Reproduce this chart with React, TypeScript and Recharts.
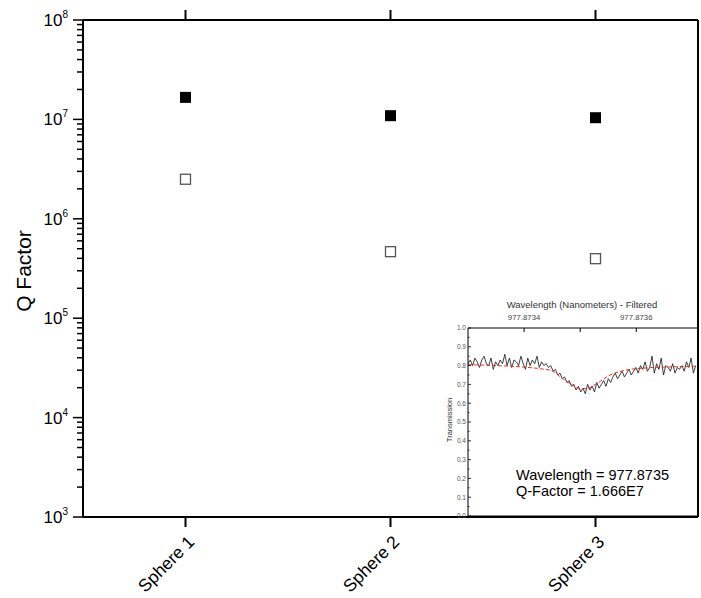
import React from 'react';
import { ComposedChart, Scatter, XAxis, YAxis, Line } from 'recharts';

// ---------- main chart data ----------
const categories = ['Sphere 1', 'Sphere 2', 'Sphere 3'];
const qFilled = [1.666e7, 1.09e7, 1.04e7];
const qOpen = [2.5e6, 4.67e5, 3.97e5];
const decadeTicks = [1e3, 1e4, 1e5, 1e6, 1e7, 1e8];
const minorMultipliers = [2, 3, 4, 5, 6, 7, 8, 9];

// ---------- inset data ----------
const insetXMin = 977.8733;
const insetXMax = 977.87371;
const insetWlTicks = [977.8734, 977.8735, 977.8736];
const insetWlLabels = ['977.8734', '', '977.8736'];
const insetTTicks = [0, 0.1, 0.2, 0.3, 0.4, 0.5, 0.6, 0.7, 0.8, 0.9, 1.0];
const insetTMinor = [0.05, 0.15, 0.25, 0.35, 0.45, 0.55, 0.65, 0.75, 0.85, 0.95];
const noiseStart = 977.8733;
const noiseStep = 0.0000041;
const noiseValues = [
  0.81, 0.83, 0.80, 0.84, 0.82, 0.79, 0.83, 0.85, 0.81, 0.80, 0.84, 0.78, 0.82, 0.80, 0.83, 0.81, 0.86,
  0.80, 0.84, 0.79, 0.83, 0.82, 0.80, 0.85, 0.81, 0.78, 0.84, 0.80, 0.83, 0.81, 0.85, 0.79, 0.82, 0.80,
  0.81, 0.79, 0.80, 0.77, 0.78, 0.75, 0.76, 0.73, 0.74, 0.71, 0.72,
  0.69, 0.70, 0.67, 0.69, 0.66, 0.68, 0.65, 0.70, 0.67, 0.69, 0.66, 0.71, 0.68, 0.70, 0.72, 0.69,
  0.73, 0.71, 0.74, 0.76, 0.73, 0.75, 0.77, 0.74, 0.76, 0.78, 0.75, 0.77,
  0.79, 0.76, 0.80, 0.78, 0.82, 0.77, 0.79, 0.85, 0.76, 0.81, 0.78, 0.84, 0.75, 0.80, 0.79, 0.77, 0.81,
  0.76, 0.79, 0.78, 0.80, 0.77, 0.82, 0.79, 0.84, 0.76, 0.80,
];
const fitWavelengths = [
  977.8733, 977.87335, 977.8734, 977.87343, 977.87345, 977.87347, 977.87349, 977.8735,
  977.87351, 977.87353, 977.87355, 977.87358, 977.87362, 977.87366, 977.87371,
];
const fitValues = [0.805, 0.8, 0.792, 0.783, 0.772, 0.727, 0.69, 0.677, 0.678, 0.705, 0.745, 0.775, 0.788, 0.793, 0.797];

const FONT = '"Liberation Sans", Arial, sans-serif';

const mainData = categories.map((name, i) => ({ name, filled: qFilled[i], open: qOpen[i] }));
const yTicks = [
  ...decadeTicks,
  ...decadeTicks.slice(0, -1).flatMap((d) => minorMultipliers.map((m) => m * d)),
];
const noiseData = noiseValues.map((t, i) => ({ wl: noiseStart + i * noiseStep, t }));
const fitData = fitWavelengths.map((wl, i) => ({ wl, t: fitValues[i] }));

const MainYTick = (props: any) => {
  const { x, y, payload } = props;
  const e = Math.log10(payload.value);
  const major = Math.abs(e - Math.round(e)) < 1e-6;
  return (
    <g>
      <line x1={x - (major ? 10 : 6)} x2={x} y1={y} y2={y} stroke="#000" strokeWidth={1.5} />
      {major && (
        <text x={x - 15} y={y + 6} textAnchor="end" fontSize={17} fontFamily={FONT} fill="#000">
          10
          <tspan dy={-8} fontSize={10}>
            {Math.round(e)}
          </tspan>
        </text>
      )}
    </g>
  );
};

const MainXTick = (props: any) => {
  const { x, y, payload } = props;
  const ax = x + 10;
  const ay = y + 26;
  return (
    <g>
      <line x1={x} x2={x} y1={y} y2={y + 10} stroke="#000" strokeWidth={2} />
      <text x={ax} y={ay} transform={`rotate(-45 ${ax} ${ay})`} textAnchor="end" fontSize={17.5} fontFamily={FONT} fill="#000">
        {payload.value}
      </text>
    </g>
  );
};

const TopXTick = (props: any) => {
  const { x, y } = props;
  return <line x1={x} x2={x} y1={y} y2={y - 10} stroke="#000" strokeWidth={2} />;
};

const FilledSquare = (props: any) => {
  const { cx, cy } = props;
  if (cx == null || cy == null) return null;
  return <rect x={cx - 5.5} y={cy - 5.5} width={11} height={11} fill="#000" />;
};

const OpenSquare = (props: any) => {
  const { cx, cy } = props;
  if (cx == null || cy == null) return null;
  return <rect x={cx - 5} y={cy - 5} width={10} height={10} fill="#fff" stroke="#555" strokeWidth={1.3} />;
};

const InsetTopTick = (props: any) => {
  const { x, y, index } = props;
  return (
    <g>
      <line x1={x} x2={x} y1={y} y2={y + 4} stroke="#000" strokeWidth={1} />
      <text x={x} y={y - 8} textAnchor="middle" fontSize={7.8} fontFamily={FONT} fill="#444">
        {insetWlLabels[index]}
      </text>
    </g>
  );
};

const InsetYTick = (props: any) => {
  const { x, y, payload } = props;
  const v = payload.value;
  const isMajor = insetTTicks.some((t) => Math.abs(t - v) < 1e-9);
  return (
    <g>
      <line x1={x} x2={x + (isMajor ? 3 : 1.5)} y1={y} y2={y} stroke="#000" strokeWidth={0.8} />
      {isMajor && (
        <text x={x - 2} y={y + 2.3} textAnchor="end" fontSize={6.5} fontFamily={FONT} fill="#555">
          {v.toFixed(1)}
        </text>
      )}
    </g>
  );
};

export default function App() {
  return (
    <div style={{ position: 'absolute', left: 8, top: 8, width: 693, height: 590, fontFamily: FONT, overflow: 'hidden' }}>
      <ComposedChart
        width={693}
        height={590}
        data={mainData}
        margin={{ top: 2, right: 2, bottom: 6, left: 0 }}
        style={{ fontFamily: FONT }}
      >
        <XAxis
          dataKey="name"
          type="category"
          scale="band"
          height={75}
          axisLine={{ stroke: '#000', strokeWidth: 2 }}
          tickLine={false}
          tickSize={0}
          tickMargin={0}
          tick={<MainXTick />}
          interval={0}
        />
        <XAxis
          xAxisId="top"
          orientation="top"
          dataKey="name"
          type="category"
          scale="band"
          height={10}
          axisLine={{ stroke: '#000', strokeWidth: 2 }}
          tickLine={false}
          tickSize={0}
          tickMargin={0}
          tick={<TopXTick />}
          interval={0}
        />
        <YAxis
          type="number"
          scale="log"
          domain={[1e3, 1e8]}
          allowDataOverflow
          ticks={yTicks}
          interval={0}
          width={75}
          axisLine={{ stroke: '#000', strokeWidth: 2 }}
          tickLine={false}
          tickSize={0}
          tickMargin={0}
          tick={<MainYTick />}
        />
        <YAxis
          yAxisId="r"
          orientation="right"
          type="number"
          domain={[0, 1]}
          width={1}
          axisLine={{ stroke: '#000', strokeWidth: 2 }}
          tick={false}
          tickLine={false}
        />
        <Scatter dataKey="filled" shape={<FilledSquare />} isAnimationActive={false} />
        <Scatter dataKey="open" shape={<OpenSquare />} isAnimationActive={false} />
      </ComposedChart>

      <div style={{ position: 'absolute', left: 432, top: 282 }}>
        <ComposedChart width={262} height={240} margin={{ top: 0, right: 3, bottom: 13, left: 0 }}>
          <XAxis
            dataKey="wl"
            type="number"
            orientation="top"
            domain={[insetXMin, insetXMax]}
            allowDataOverflow
            ticks={insetWlTicks}
            interval={0}
            height={38}
            axisLine={{ stroke: '#000', strokeWidth: 1 }}
            tickLine={false}
            tickSize={0}
            tickMargin={0}
            tick={<InsetTopTick />}
          />
          <XAxis
            xAxisId="bottom"
            dataKey="wl"
            type="number"
            orientation="bottom"
            domain={[insetXMin, insetXMax]}
            allowDataOverflow
            height={1}
            axisLine={{ stroke: '#000', strokeWidth: 1 }}
            tick={false}
            tickLine={false}
          />
          <YAxis
            type="number"
            domain={[0, 1]}
            allowDataOverflow
            ticks={[...insetTTicks, ...insetTMinor]}
            interval={0}
            width={28}
            axisLine={{ stroke: '#000', strokeWidth: 1 }}
            tickLine={false}
            tickSize={0}
            tickMargin={0}
            tick={<InsetYTick />}
          />
          <YAxis
            yAxisId="ir"
            orientation="right"
            type="number"
            domain={[0, 1]}
            width={1}
            axisLine={{ stroke: '#000', strokeWidth: 1 }}
            tick={false}
            tickLine={false}
          />
          <Line
            data={noiseData}
            dataKey="t"
            stroke="#111"
            strokeWidth={0.8}
            dot={false}
            isAnimationActive={false}
          />
          <Line
            data={fitData}
            dataKey="t"
            stroke="#e8302c"
            strokeWidth={1}
            strokeDasharray="4 2"
            dot={false}
            type="monotone"
            isAnimationActive={false}
          />
        </ComposedChart>
      </div>

      <svg
        width={693}
        height={590}
        style={{ position: 'absolute', left: 0, top: 0, pointerEvents: 'none' }}
        fontFamily={FONT}
      >
        <text x={23} y={263} transform="rotate(-90 23 263)" textAnchor="middle" fontSize={21} fill="#000">
          Q Factor
        </text>
        <text x={574} y={300} textAnchor="middle" fontSize={9.5} fill="#333">
          Wavelength (Nanometers) - Filtered
        </text>
        <text x={444} y={412} transform="rotate(-90 444 412)" textAnchor="middle" fontSize={7.5} fill="#333">
          Transmission
        </text>
        <text x={508} y={471.5} fontSize={14.5} fill="#000">
          Wavelength = 977.8735
        </text>
        <text x={508} y={488} fontSize={14.5} fill="#000">
          Q-Factor = 1.666E7
        </text>
      </svg>
    </div>
  );
}
